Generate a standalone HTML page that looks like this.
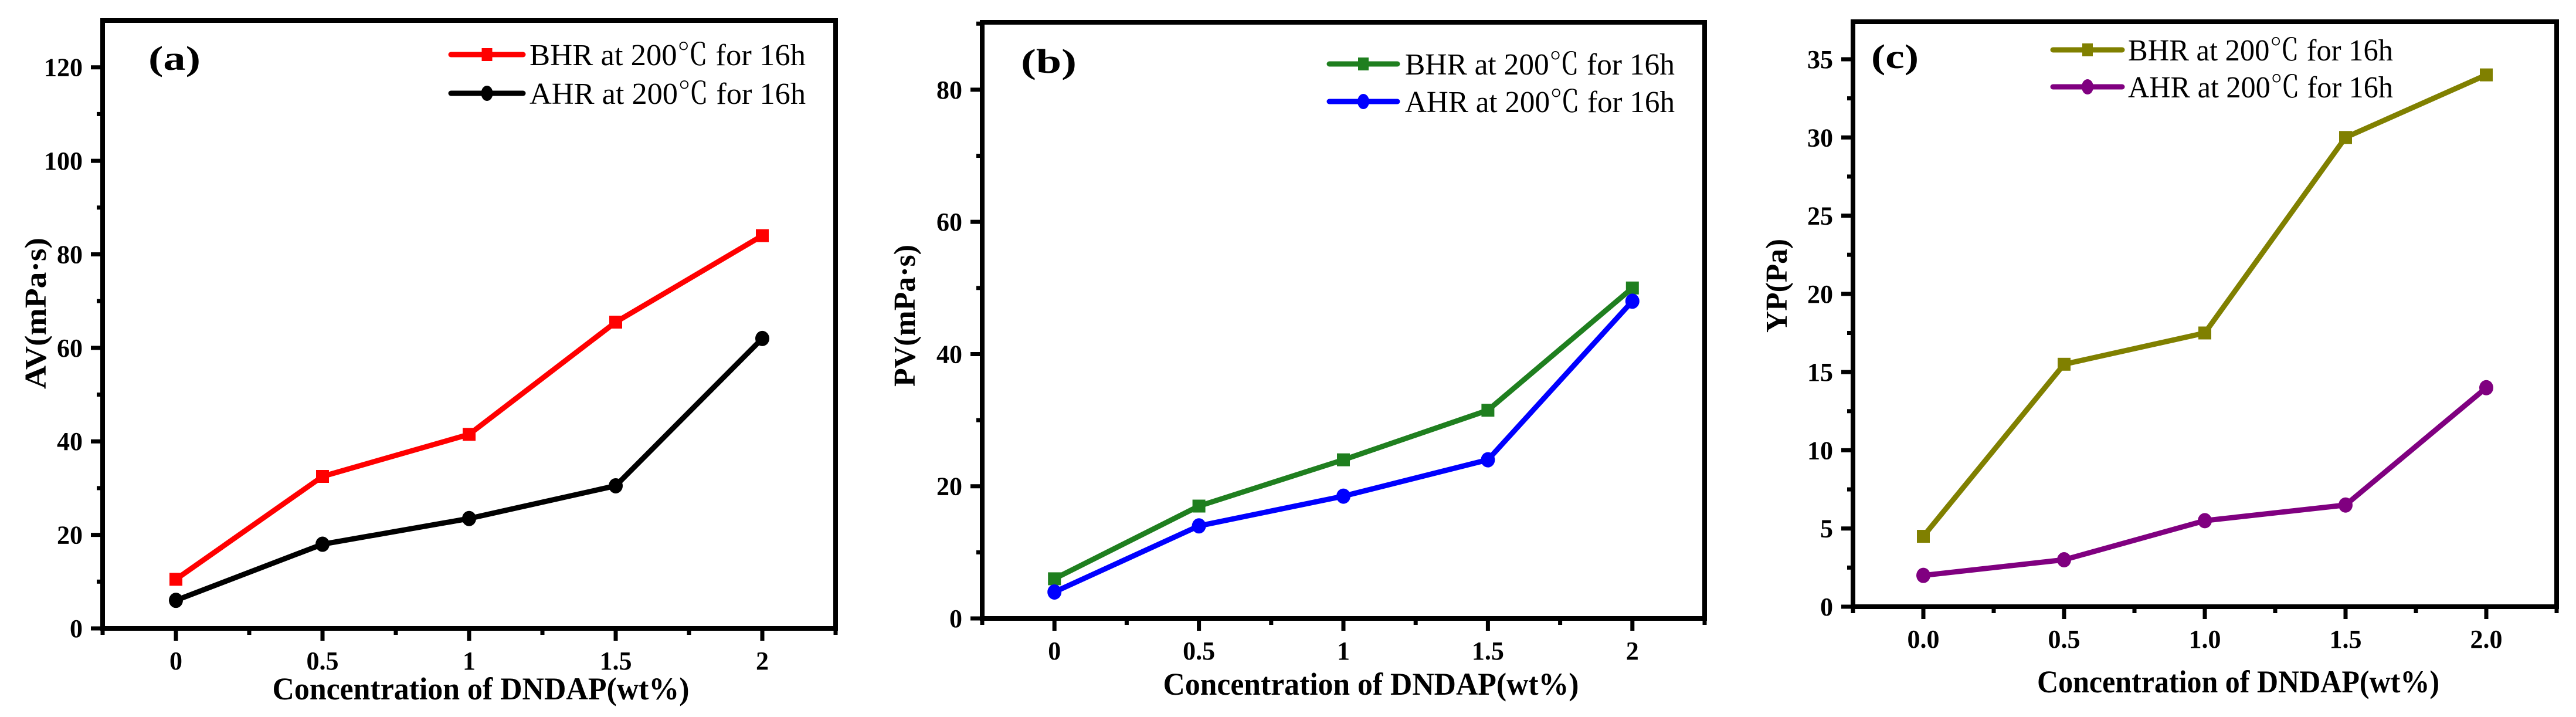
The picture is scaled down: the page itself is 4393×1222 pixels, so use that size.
<!DOCTYPE html>
<html><head><meta charset="utf-8"><style>
html,body{margin:0;padding:0;background:#fff;}
svg{display:block;}
text{font-family:"Liberation Serif","Noto Serif CJK SC",serif;fill:#000;}
</style></head><body>
<svg id="fig" width="4393" height="1222" viewBox="0 0 4393 1222" xmlns="http://www.w3.org/2000/svg"></svg>
<script>
const xCats = [0, 0.5, 1, 1.5, 2];
const xTickLabelsAB = ["0", "0.5", "1", "1.5", "2"];
const xTickLabelsC = ["0.0", "0.5", "1.0", "1.5", "2.0"];
const avBHR = [10.5, 32.5, 41.5, 65.5, 84];
const avAHR = [6, 18, 23.5, 30.5, 62];
const pvBHR = [6, 17, 24, 31.5, 50];
const pvAHR = [4, 14, 18.5, 24, 48];
const ypBHR = [4.5, 15.5, 17.5, 30, 34];
const ypAHR = [2, 3, 5.5, 6.5, 14];
const avTicks = [0, 20, 40, 60, 80, 100, 120];
const pvTicks = [0, 20, 40, 60, 80];
const ypTicks = [0, 5, 10, 15, 20, 25, 30, 35];
const legendLabels = ["BHR at 200\u2103 for 16h", "AHR at 200\u2103 for 16h"];

const NS = "http://www.w3.org/2000/svg";
const svg = document.getElementById('fig');
function mk(tag, attrs, parent) {
  const e = document.createElementNS(NS, tag);
  for (const k in attrs) e.setAttribute(k, attrs[k]);
  (parent || svg).appendChild(e);
  return e;
}

const panels = [
  {id:'a', L:175, R:1425, T:35, B:1071, ymax:130, ticks:avTicks, minorStep:10, xl:xTickLabelsAB,
   s1:avBHR, s2:avAHR, c1:'#ff0000', c2:'#000000', ytitle:'AV(mPa\u00b7s)', ytx:61, yty:534, ytw:258,
   xtc:820, xty:1192, xtw:711, letter:'(a)', lx:253, ly:119, lw:89,
   legLine:[769,892], legText:[903,1374], legRows:[93,159]},
  {id:'b', L:1675, R:2907, T:38, B:1054, ymax:90.2, ticks:pvTicks, minorStep:10, xl:xTickLabelsAB,
   s1:pvBHR, s2:pvAHR, c1:'#1f7f1f', c2:'#0000ff', ytitle:'PV(mPa\u00b7s)', ytx:1543, yty:538, ytw:242,
   xtc:2338, xty:1184, xtw:709, letter:'(b)', lx:1741, ly:124, lw:95,
   legLine:[2267,2383], legText:[2396,2856], legRows:[109,173]},
  {id:'c', L:3160, R:4360, T:37, B:1034, ymax:37.4, ticks:ypTicks, minorStep:null, xl:xTickLabelsC,
   s1:ypBHR, s2:ypAHR, c1:'#808000', c2:'#800080', ytitle:'YP(Pa)', ytx:3030, yty:487, ytw:160,
   xtc:3817, xty:1180, xtw:686, letter:'(c)', lx:3191, ly:116, lw:81,
   legLine:[3501,3619], legText:[3629,4081], legRows:[85,148]}
];

panels.forEach(p => {
  const g = mk('g', {});
  
  
  const xs = v => p.L + (v + 0.25) / 2.5 * (p.R - p.L);
  const ys = v => p.B - v / p.ymax * (p.B - p.T);

  // frame
  const fr = mk('rect', {x:p.L, y:p.T, width:p.R-p.L, height:p.B-p.T, fill:'none', stroke:'#000', 'stroke-width':8}, g);
  
  

  // y ticks
  p.ticks.forEach(t => {
    const y = ys(t);
    mk('line', {x1:p.L-20, x2:p.L, y1:y, y2:y, stroke:'#000', 'stroke-width':7}, g);
    const tx = mk('text', {x:p.L-34, y:y+15, 'text-anchor':'end', 'font-size':44, 'font-weight':'bold'}, g);
    tx.textContent = String(t);
    
    
  });
  // y minor ticks
  const step = p.ticks[1] - p.ticks[0];
  for (let v = step/2; v < p.ymax; v += step) {
    const y = ys(v);
    mk('line', {x1:p.L-10, x2:p.L, y1:y, y2:y, stroke:'#000', 'stroke-width':7}, g);
  }
  // x ticks
  xCats.forEach((c, i) => {
    const x = xs(c);
    mk('line', {x1:x, x2:x, y1:p.B, y2:p.B+21, stroke:'#000', 'stroke-width':7}, g);
    const tx = mk('text', {x:x, y:p.B+70, 'text-anchor':'middle', 'font-size':44, 'font-weight':'bold'}, g);
    tx.textContent = p.xl[i];
    
    
  });
  for (let v = -0.25; v <= 2.26; v += 0.5) {
    const x = xs(v);
    mk('line', {x1:x, x2:x, y1:p.B, y2:p.B+11, stroke:'#000', 'stroke-width':7}, g);
  }

  // axis titles
  const yt = mk('text', {x:0, y:0, 'text-anchor':'middle', 'font-size':52, 'font-weight':'bold',
    transform:`translate(${p.ytx+17},${p.yty}) rotate(-90)`, textLength:p.ytw, lengthAdjust:'spacingAndGlyphs'}, g);
  yt.textContent = p.ytitle;
  
  
  const xt = mk('text', {x:p.xtc, y:p.xty, 'text-anchor':'middle', 'font-size':54, 'font-weight':'bold',
    textLength:p.xtw, lengthAdjust:'spacingAndGlyphs'}, g);
  xt.textContent = 'Concentration of DNDAP(wt%)';
  
  

  // panel letter
  const lt = mk('text', {x:p.lx, y:p.ly, 'font-size':58, 'font-weight':'bold', textLength:p.lw, lengthAdjust:'spacingAndGlyphs'}, g);
  lt.textContent = p.letter;
  
  

  // series
  [[p.s1, p.c1, 'square'], [p.s2, p.c2, 'circle']].forEach((s, si) => {
    const vals = s[0], col = s[1];
    const pts = vals.map((v, i) => xs(xCats[i]) + ',' + ys(v)).join(' ');
    const pl = mk('polyline', {points:pts, fill:'none', stroke:col, 'stroke-width':9, 'stroke-linejoin':'round'}, g);
    
    
    vals.forEach((v, i) => {
      const cx = xs(xCats[i]), cy = ys(v);
      let m;
      if (s[2] === 'square') m = mk('rect', {x:cx-11, y:cy-11, width:22, height:22, fill:col}, g);
      else m = mk('ellipse', {cx:cx, cy:cy, rx:12, ry:13, fill:col}, g);
      
      
    });
    // legend
    const ry = p.legRows[si];
    const l1 = mk('line', {x1:p.legLine[0], x2:p.legLine[1], y1:ry, y2:ry, stroke:col, 'stroke-width':9, 'stroke-linecap':'round'}, g);
    
    
    const mx = (p.legLine[0] + p.legLine[1]) / 2;
    if (s[2] === 'square') mk('rect', {x:mx-9, y:ry-11, width:18, height:22, fill:col}, g);
    else mk('ellipse', {cx:mx, cy:ry, rx:10, ry:13, fill:col}, g);
    const lg = mk('text', {x:p.legText[0], y:ry+18, 'font-size':52, textLength:p.legText[1]-p.legText[0], lengthAdjust:'spacingAndGlyphs'}, g);
    lg.textContent = legendLabels[si];
    
    
  });
});
</script>
</body></html>
